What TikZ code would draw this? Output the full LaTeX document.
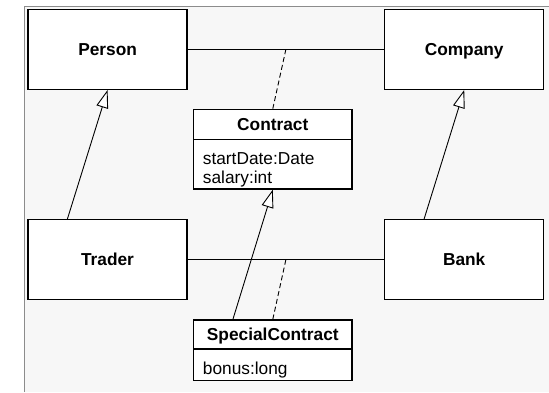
\documentclass[tikz,border=0pt]{standalone}
\usepackage{fontspec}
\setmainfont{Liberation Sans}
\usetikzlibrary{arrows.meta,calc}
\begin{document}
\begin{tikzpicture}[x=1pt,y=-1pt,
  cls/.style={draw=black,line width=1.3pt,fill=white,minimum width=159pt,minimum height=80pt,inner sep=0pt,text height=12.4pt,text depth=1pt,font=\bfseries\fontsize{17.3}{20}\selectfont},
  part/.style={draw=black,line width=1.3pt,fill=white,minimum width=158.5pt,inner sep=0pt},
  ptitle/.style={part,text height=12.4pt,text depth=1pt,font=\bfseries\fontsize{17.3}{20}\selectfont},
  assoc/.style={line width=0.9pt},
  link/.style={line width=0.9pt,dash pattern=on 5pt off 3pt},
  gen/.style={line width=0.9pt,-{Triangle[open,length=18pt,width=12pt,fill=white]}},
  attr/.style={anchor=base west,inner sep=0pt,font=\fontsize{17.3}{20}\selectfont}
]
\useasboundingbox (0,0) rectangle (549,392);
\fill[white] (0,0) rectangle (549,392);
\fill[black!3] (24.3,6) rectangle (549,392);
\draw[black!45,line width=1pt] (24.3,392) -- (24.3,6) -- (549,6);

\node[cls] (person) at (107.6,49.3) {Person};
\node[cls] (company) at (464.2,49.3) {Company};
\node[cls] (trader) at (107.5,259.8) {Trader};
\node[cls] (bank) at (464.2,259.8) {Bank};

\node[ptitle,minimum height=30pt] (ctitle) at (272.8,124.3) {Contract};
\node[part,minimum height=49.7pt] (cbody) at (272.8,164.15) {};
\node[attr] (cattr1) at (202.7,164) {startDate:Date};
\node[attr] (cattr2) at (202.7,183.3) {salary:int};

\node[ptitle,minimum height=29pt] (sctitle) at (272.8,334.5) {SpecialContract};
\node[part,minimum height=31.7pt] (scbody) at (272.8,364.85) {};
\node[attr] (scattr1) at (202.7,374) {bonus:long};

\draw[assoc] (person.east) -- coordinate (am1) (company.west);
\draw[assoc] (trader.east) -- coordinate (am2) (bank.west);
\draw[link] (am1) -- (ctitle.north);
\draw[link] (am2) -- (sctitle.north);

\draw[gen] ([xshift=40pt]trader.north west) -- (person.south);
\draw[gen] ([xshift=40pt]bank.north west) -- (company.south);
\draw[gen] ([xshift=40pt]sctitle.north west) -- (cbody.south);
\end{tikzpicture}
\end{document}
